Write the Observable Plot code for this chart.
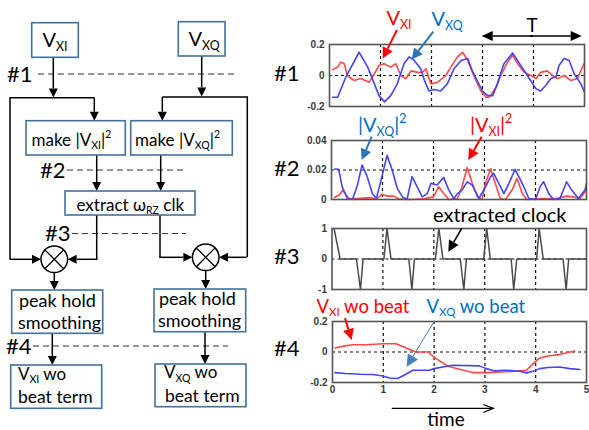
<!DOCTYPE html>
<html><head><meta charset="utf-8">
<script src="https://cdn.jsdelivr.net/npm/d3@7"></script>
<script src="https://cdn.jsdelivr.net/npm/@observablehq/plot@0.6"></script>
<style>
body{margin:0;background:#fff;}
#wrap{position:relative;width:589px;height:430px;overflow:hidden;font-family:Lato,sans-serif;background:#fff;}
#wrap > svg{position:absolute;}
</style></head><body><div id="wrap"></div>
<script>
// ---------- data (time in units) ----------
const timeTicks = [0, 1, 2, 3, 4, 5];
const gridTimes = [1, 2, 3, 4];

// #1 : V_XI (red) and V_XQ (blue)
const p1XQ = [[0.06,-0.14],[0.16,-0.14],[0.32,-0.01],[0.58,0.15],[0.75,0.054],[0.97,-0.13],[1.08,-0.17],[1.2,-0.13],[1.33,-0.054],[1.46,0.076],[1.56,0.12],[1.66,0.097],[1.79,0.043],[1.86,-0.03],[1.95,-0.1],[2.05,-0.09],[2.18,-0.1],[2.31,-0.054],[2.44,0.043],[2.58,0.097],[2.71,0.11],[2.8,0.03],[3.0,-0.1],[3.1,-0.13],[3.2,-0.13],[3.29,-0.054],[3.42,0.076],[3.59,0.145],[3.75,0.065],[3.88,0.0],[4.05,-0.086],[4.14,-0.1],[4.24,-0.065],[4.34,-0.02],[4.44,-0.01],[4.5,0.065],[4.6,0.11],[4.7,0.097],[4.8,0.01],[4.93,-0.054],[4.99,-0.1]];
const p1XI = [[0.06,0.037],[0.16,0.054],[0.22,0.086],[0.29,0.076],[0.35,0.0],[0.48,-0.032],[0.61,-0.02],[0.78,-0.043],[0.88,0.01],[0.97,0.065],[1.07,0.076],[1.2,0.054],[1.3,0.076],[1.4,0.0],[1.5,-0.02],[1.6,0.03],[1.73,0.02],[1.82,0.02],[1.89,0.043],[1.99,-0.054],[2.12,-0.043],[2.28,0.0],[2.38,0.054],[2.51,0.12],[2.61,0.15],[2.71,0.097],[2.84,-0.01],[2.97,-0.1],[3.07,-0.14],[3.13,-0.14],[3.27,-0.076],[3.36,0.0],[3.49,0.086],[3.59,0.13],[3.69,0.076],[3.82,0.02],[3.95,0.0],[4.05,-0.02],[4.14,0.02],[4.27,0.03],[4.37,0.0],[4.47,-0.02],[4.6,0.0],[4.73,-0.032],[4.86,-0.02],[4.99,0.076]];

// #2 : |V_XQ|^2 (blue) and |V_XI|^2 (red)
const p2XQ = [[0.06,0.0207],[0.14,0.0205],[0.21,0.0086],[0.31,0.0007],[0.41,0],[0.5,0.0086],[0.6,0.0234],[0.7,0.0155],[0.8,0.004],[0.88,0.0007],[0.97,0.013],[1.09,0.030],[1.19,0.02],[1.29,0.0075],[1.39,0.0018],[1.48,0],[1.58,0.0155],[1.68,0.0086],[1.78,0.0018],[1.88,0.004],[1.95,0.011],[2.07,0.0098],[2.2,0.015],[2.3,0.0064],[2.4,0.0007],[2.47,0.004],[2.56,0.0064],[2.66,0.012],[2.76,0.0098],[2.89,0.0007],[3.02,0.0086],[3.12,0.0155],[3.18,0.0177],[3.28,0.011],[3.38,0.004],[3.48,0.011],[3.6,0.0205],[3.74,0.011],[3.87,0.0007],[4.0,0],[4.09,0.0086],[4.16,0.012],[4.26,0.004],[4.35,0],[4.48,0.0007],[4.61,0.012],[4.71,0.0064],[4.84,0.0007],[4.97,0.0064],[5.0,0.011]];
const p2XI = [[0.06,0.0014],[0.15,0.003],[0.22,0.0063],[0.34,0.0007],[0.5,0.0007],[0.7,0.0011],[0.9,0.0007],[0.99,0.0036],[1.09,0.0023],[1.22,0.0023],[1.32,0.0005],[1.55,0],[1.81,0.0005],[2.0,0.0018],[2.1,0.0086],[2.2,0.004],[2.3,0],[2.47,0.0007],[2.56,0.0086],[2.66,0.0216],[2.76,0.011],[2.86,0.0018],[2.95,0],[3.02,0.011],[3.12,0.021],[3.21,0.011],[3.31,0.0007],[3.41,0],[3.54,0.0064],[3.64,0.0143],[3.74,0.004],[3.83,0],[4.15,0.0007],[4.42,0.0007],[4.61,0.0023],[4.74,0.0018],[4.87,0.0007],[5.0,0.0063]];

// #3 : extracted clock
const p3Clock = [[0.04,1],[0.16,0],[0.48,0],[0.56,-1],[0.61,0],[1.02,0],[1.08,1],[1.16,0],[1.51,0],[1.57,-1],[1.62,0],[2.03,0],[2.1,1],[2.18,0],[2.52,0],[2.59,-1],[2.64,0],[2.98,0],[3.04,1],[3.11,0],[3.52,0],[3.57,-1],[3.63,0],[4.02,0],[4.07,1],[4.15,0],[4.54,0],[4.6,-1],[4.65,0],[4.98,0]];

// #4 : without beat term
const p4XI = [[0.05,0.026],[0.2,0.037],[0.39,0.048],[0.66,0.048],[0.99,0.054],[1.25,0.054],[1.45,0.026],[1.64,0],[1.88,0],[2.04,-0.043],[2.27,-0.093],[2.5,-0.113],[2.76,-0.135],[3.03,-0.135],[3.42,-0.13],[3.82,-0.12],[3.95,-0.076],[4.08,-0.039],[4.24,-0.026],[4.47,-0.017],[4.77,0.0065]];
const p4XQ = [[0.05,-0.135],[0.26,-0.141],[0.53,-0.146],[0.79,-0.148],[0.99,-0.157],[1.12,-0.17],[1.28,-0.174],[1.41,-0.152],[1.58,-0.12],[1.71,-0.12],[1.91,-0.12],[2.0,-0.109],[2.17,-0.098],[2.37,-0.087],[2.89,-0.091],[3.03,-0.109],[3.19,-0.124],[3.42,-0.12],[3.68,-0.126],[3.82,-0.137],[3.95,-0.126],[4.08,-0.109],[4.24,-0.102],[4.47,-0.098],[4.67,-0.109],[4.87,-0.115]];

// ---------- styles ----------
const RED = "#ff4848", BLUE = "#4444ff", CLK = "#4a4a4a";
const TXT_RED = "#ff0000", TXT_BLUE = "#0070c0", ARROW_BLUE = "#2e75b6", BOX = "#41719c";

const wrap = document.getElementById("wrap");

function panel(o) {
  const chart = Plot.plot({
    width: o.width, height: o.height,
    marginLeft: o.mL, marginRight: o.mR, marginTop: o.mT, marginBottom: o.mB,
    x: {domain: [0, 5], axis: o.xAxis ? "bottom" : null, ticks: timeTicks, tickSize: 0, tickPadding: 3, label: null, tickFormat: d => String(d)},
    y: {domain: o.yDomain, ticks: o.yTicks, tickSize: 0, tickPadding: 5, label: null, tickFormat: d => String(d)},
    style: {fontFamily: "'Liberation Sans', Arial, sans-serif", fontSize: "10px", fontWeight: "bold", color: "#3a3a3a", background: "transparent", overflow: "visible"},
    marks: [
      Plot.ruleX(gridTimes, {stroke: "#111", strokeWidth: 1.2, strokeDasharray: "3,3"}),
      Plot.ruleY(o.hGrid, {stroke: "#111", strokeWidth: 1.2, strokeDasharray: "3,3"}),
      ...o.series.map(s => Plot.line(s.data, {stroke: s.color, strokeWidth: s.w || 1.6})),
      Plot.frame({stroke: "#555", strokeWidth: 1.6})
    ]
  });
  chart.style.left = o.left + "px";
  chart.style.top = o.top + "px";
  wrap.append(chart);
}

panel({left: 296, top: 36, width: 293, height: 74, mL: 33, mR: 5, mT: 8, mB: 4,
  yDomain: [-0.2, 0.2], yTicks: [-0.2, 0, 0.2], hGrid: [0],
  series: [{data: p1XI, color: RED}, {data: p1XQ, color: BLUE}]});
panel({left: 296, top: 132, width: 293, height: 71, mL: 35, mR: 3, mT: 8, mB: 4,
  yDomain: [0, 0.04], yTicks: [0, 0.02, 0.04], hGrid: [0.02],
  series: [{data: p2XI, color: RED}, {data: p2XQ, color: BLUE}]});
panel({left: 296, top: 220, width: 293, height: 73, mL: 35.5, mR: 3, mT: 8, mB: 4,
  yDomain: [-1, 1], yTicks: [-1, 0, 1], hGrid: [0],
  series: [{data: p3Clock, color: CLK, w: 1.5}]});
panel({left: 296, top: 313, width: 293, height: 83, mL: 36, mR: 3, mT: 8, mB: 14, xAxis: true,
  yDomain: [-0.2, 0.2], yTicks: [-0.2, 0, 0.2], hGrid: [0],
  series: [{data: p4XI, color: RED}, {data: p4XQ, color: BLUE}]});

// ---------- overlay: block diagram and annotations ----------
const svg = d3.select(wrap).append("svg").attr("width", 589).attr("height", 430)
  .style("left", "0px").style("top", "0px").style("font-family", "Lato, sans-serif");
const g = svg.append("g");

function arrow(x1, y1, x2, y2, {color = "#000", w = 1.5, hl = 9, hw = 4.5} = {}) {
  const a = Math.atan2(y2 - y1, x2 - x1);
  const bx = x2 - hl * Math.cos(a), by = y2 - hl * Math.sin(a);
  g.append("line").attr("x1", x1).attr("y1", y1).attr("x2", bx).attr("y2", by)
    .attr("stroke", color).attr("stroke-width", w);
  const px = -Math.sin(a) * hw, py = Math.cos(a) * hw;
  g.append("polygon").attr("points", `${x2},${y2} ${bx + px},${by + py} ${bx - px},${by - py}`).attr("fill", color);
}
function path(pts, {color = "#000", w = 1.5, dash = null} = {}) {
  g.append("path").attr("d", d3.line()(pts)).attr("fill", "none").attr("stroke", color)
    .attr("stroke-width", w).attr("stroke-dasharray", dash);
}
function box(x, y, w, h) {
  g.append("rect").attr("x", x).attr("y", y).attr("width", w).attr("height", h)
    .attr("fill", "#fff").attr("stroke", BOX).attr("stroke-width", 1.6);
}
// rich text: parts = [[text, kind]] kind: undefined | "sub" | "sup"
function rich(x, y, parts, {size = 17, color = "#000", anchor = "start"} = {}) {
  const t = g.append("text").attr("x", x).attr("y", y).attr("fill", color)
    .attr("font-size", size).attr("text-anchor", anchor);
  let shift = 0;
  for (const [s, kind] of parts) {
    let target = 0, fs = size;
    if (kind === "sub") { target = 0.2 * size; fs = 0.62 * size; }
    if (kind === "sup") { target = -0.42 * size; fs = 0.62 * size; }
    t.append("tspan").attr("dy", target - shift).attr("font-size", fs).text(s);
    shift = target;
  }
  return t;
}

// dashed level lines
const DASH = {color: "#333", w: 1.2, dash: "6,4"};
path([[38, 74], [235, 74]], DASH);
path([[67, 170], [184, 170]], DASH);
path([[72, 233.5], [186, 233.5]], DASH);
path([[33, 346], [228, 346]], DASH);

// wiring
arrow(53.3, 57.3, 53.3, 97.5);
arrow(201.7, 56, 201.7, 96.5);
path([[10, 259.5], [10, 97.7], [94.3, 97.7]]);
arrow(94.3, 97.7, 94.3, 120.7);
path([[247.3, 257.3], [247.3, 97], [162.3, 97]]);
arrow(162.3, 97, 162.3, 120.7);
arrow(10, 259.3, 41, 259.3);
arrow(246.5, 257.3, 219, 257.3);
arrow(96.7, 155, 96.7, 191);
arrow(160.7, 155, 160.7, 191);
path([[96.7, 215], [96.7, 259.3]]);
arrow(97.4, 259.3, 67.6, 259.3);
path([[160, 215], [160, 257.3]]);
arrow(159.3, 257.3, 192.4, 257.3);
arrow(54.3, 272.6, 54.3, 290);
arrow(205.7, 270.6, 205.7, 289);
arrow(52.3, 333.3, 52.3, 365);
arrow(205, 331.7, 205, 364);

// multipliers
for (const [cx, cy] of [[54.3, 259.3], [205.7, 257.3]]) {
  const r = 13.3, d = r * Math.SQRT1_2;
  g.append("circle").attr("cx", cx).attr("cy", cy).attr("r", r).attr("fill", "#fff").attr("stroke", "#000").attr("stroke-width", 1.5);
  path([[cx - d, cy - d], [cx + d, cy + d]], {w: 1.3});
  path([[cx - d, cy + d], [cx + d, cy - d]], {w: 1.3});
}

// boxes
box(31.7, 22.7, 46.6, 34.6);
box(178.3, 21.7, 46.7, 34.3);
box(26, 120.7, 99.3, 34.3);
box(130.7, 120.7, 101.6, 34.3);
box(65, 191, 130, 24);
box(11.7, 290, 91, 43.3);
box(154, 289, 91.7, 42.7);
box(10.7, 365, 91, 43.3);
box(155, 364, 91, 42.7);

// box texts
rich(55, 46.7, [["V"], ["XI", "sub"]], {size: 20, anchor: "middle"});
rich(204, 45.7, [["V"], ["XQ", "sub"]], {size: 20, anchor: "middle"});
rich(31.5, 145.5, [["make |V"], ["XI", "sub"], ["|"], ["2", "sup"]], {size: 17});
rich(135, 145.5, [["make |V"], ["XQ", "sub"], ["|"], ["2", "sup"]], {size: 17});
rich(76.5, 210.5, [["extract ω"], ["RZ", "sub"], [" clk"]], {size: 17});
rich(19, 306.5, [["peak hold"]], {size: 18});
rich(18, 328.5, [["smoothing"]], {size: 18});
rich(159, 305, [["peak hold"]], {size: 18});
rich(158, 326.5, [["smoothing"]], {size: 18});
rich(18, 380, [["V"], ["XI", "sub"], [" wo"]], {size: 17});
rich(18, 403.3, [["beat term"]], {size: 17.5});
rich(164, 378.3, [["V"], ["XQ", "sub"], [" wo"]], {size: 17});
rich(165, 401.7, [["beat term"]], {size: 17.5});

// section labels
for (const [x, y, s] of [[7, 82, "#1"], [40, 177.5, "#2"], [45, 240.5, "#3"], [6, 354, "#4"],
                         [274, 81, "#1"], [274, 176, "#2"], [274, 264, "#3"], [274, 356, "#4"]]) {
  rich(x, y, [[s]], {size: 22});
}

// right-side annotations
rich(386.5, 25, [["V"], ["XI", "sub"]], {size: 20, color: TXT_RED});
arrow(397, 30, 382.7, 58.5, {color: TXT_RED, w: 2, hl: 11, hw: 5.5});
rich(431.5, 26, [["V"], ["XQ", "sub"]], {size: 20, color: TXT_BLUE});
arrow(433.3, 31.7, 411.7, 59.5, {color: ARROW_BLUE, w: 2, hl: 11, hw: 5.5});
rich(532, 32, [["T"]], {size: 19, anchor: "middle"});
arrow(530, 36, 581.7, 36, {hl: 11, hw: 5});
arrow(533, 36, 481.7, 36, {hl: 11, hw: 5});

rich(358, 131.5, [["|V"], ["XQ", "sub"], ["|"], ["2", "sup"]], {size: 20, color: TXT_BLUE});
arrow(371.7, 136.7, 361.7, 160, {color: ARROW_BLUE, w: 2, hl: 11, hw: 5.5});
rich(470, 131.5, [["|V"], ["XI", "sub"], ["|"], ["2", "sup"]], {size: 20, color: TXT_RED});
arrow(481.7, 136.7, 468.3, 160, {color: TXT_RED, w: 2, hl: 11, hw: 5.5});

rich(433, 221.5, [["extracted clock"]], {size: 20});
arrow(461.7, 228.3, 448.3, 251.7, {w: 1.6, hl: 11, hw: 5.5});

rich(316.5, 312.5, [["V"], ["XI", "sub"], [" wo beat"]], {size: 18.5, color: TXT_RED});
arrow(345, 318.3, 351.7, 340, {color: TXT_RED, w: 2, hl: 11, hw: 5.5});
rich(426.5, 312.5, [["V"], ["XQ", "sub"], [" wo beat"]], {size: 18.5, color: TXT_BLUE});
arrow(434, 321.7, 406.7, 366.7, {color: "#4a7ebb", w: 1, hl: 12, hw: 6});

// time arrow
path([[391.7, 408.3], [493.3, 408.3]], {w: 1.3});
path([[483.3, 404.5], [493.3, 408.3], [483.3, 412.5]], {w: 1.3});
rich(446, 425.5, [["time"]], {size: 19, anchor: "middle"});
</script></body></html>
